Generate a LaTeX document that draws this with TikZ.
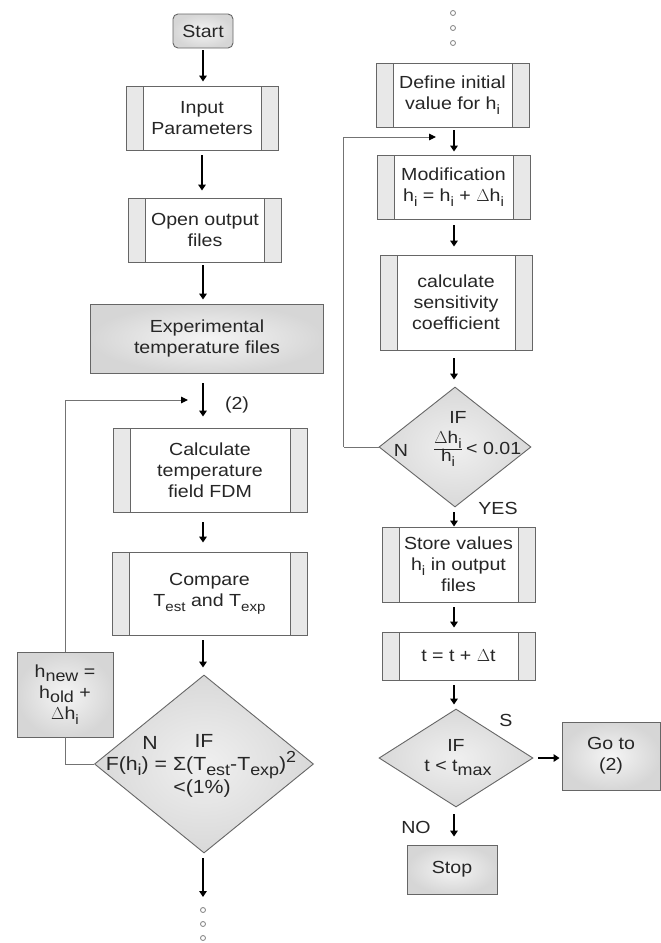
\documentclass[tikz,border=0pt]{standalone}
\usepackage{fontspec}
\setmainfont[FakeStretch=1.12]{Liberation Sans}
\usetikzlibrary{shapes.geometric,arrows.meta}
\newcommand\sbs[1]{\raisebox{-0.5ex}{\fontsize{13.5}{13.5}\selectfont #1}}
\newcommand\sbb[1]{\raisebox{-0.45ex}{\fontsize{16}{16}\selectfont #1}}
\newcommand\sps[1]{\raisebox{0.8ex}{\fontsize{16}{16}\selectfont #1}}
\begin{document}
\begin{tikzpicture}[x=1pt,y=-1pt,
  every node/.style={text=black!85, font=\fontsize{17.5}{21}\selectfont, align=center},
  box/.style={draw=black!60, line width=0.9pt, rectangle, inner sep=0pt},
  shadedbox/.style={box, inner color=gray!8, outer color=gray!32},
  proc/.style={box, fill=gray!18, path picture={
      \fill[white] ([xshift=17pt]path picture bounding box.south west) rectangle ([xshift=-17pt]path picture bounding box.north east);
      \draw[black!60, line width=0.9pt] ([xshift=17pt]path picture bounding box.south west) -- ([xshift=17pt]path picture bounding box.north west);
      \draw[black!60, line width=0.9pt] ([xshift=-17pt]path picture bounding box.south east) -- ([xshift=-17pt]path picture bounding box.north east);
  }},
  dec/.style={diamond, draw=black!60, line width=0.9pt, inner sep=0pt, inner color=gray!12, outer color=gray!30},
  lbl/.style={inner sep=0pt},
  arr/.style={-{Triangle[length=6pt,width=7.5pt]}, line width=2.6pt, draw=black},
  fb/.style={draw=black!55, line width=1pt, -{Triangle[length=7pt,width=6.5pt,color=black]}},
  fbline/.style={draw=black!55, line width=1pt},
  dot/.style={circle, draw=black!50, line width=0.8pt, minimum size=5pt, inner sep=0pt}
]
\useasboundingbox[fill=white] (0,0) rectangle (661,943);

% ---------- left column ----------
\node[shadedbox, rounded corners=5pt, minimum width=60pt, minimum height=34pt] (start) at (203,31) {Start};
\node[proc, minimum width=152pt, minimum height=64pt] (inp) at (202,118) {Input\\Parameters};
\node[proc, minimum width=153pt, minimum height=64pt] (open) at (205,230) {Open output\\files};
\node[shadedbox, minimum width=233pt, minimum height=69pt] (exp) at (207,338.5) {Experimental\\temperature files};
\node[proc, minimum width=194pt, minimum height=84pt] (calc) at (210,470) {Calculate\\temperature\\field FDM};
\node[proc, minimum width=195pt, minimum height=83pt] (comp) at (209.5,593.5) {Compare\\T\sbs{est} and T\sbs{exp}};
\node[shadedbox, minimum width=96pt, minimum height=85pt] (hnew) at (65,694.5) {h\sbb{new} =\\h\sbb{old} +\\$\Delta$h\sbs{i}};
\node[dec, minimum width=219pt, minimum height=178pt] (d1) at (204,764) {};
\node[lbl, font=\fontsize{19}{21}\selectfont] (d1n) at (150,743) {N};
\node[lbl, font=\fontsize{19}{21}\selectfont] (d1if) at (204,741) {IF};
\node[lbl, font=\fontsize{19}{21}\selectfont] (d1f) at (201,765) {F(h\sbb{i}) = Σ(T\sbb{est}-T\sbb{exp})\sps{2}};
\node[lbl, font=\fontsize{19}{21}\selectfont] (d1p) at (202,789) {<(1\%)};
\coordinate (p2) at (203,400);
\node[lbl] (two) at (237,405) {(2)};
\coordinate (d1end) at (203,897);
\node[dot] (a1) at (203,910) {};
\node[dot] (a2) at (203,924) {};
\node[dot] (a3) at (203,938) {};

\draw[arr, shorten <=2pt, shorten >=4pt] (start) -- (start |- inp.north);
\draw[arr, shorten <=5pt, shorten >=7pt] (inp) -- (inp |- open.north);
\draw[arr, shorten <=3pt, shorten >=4pt] (open.south -| start) -- (start |- exp.north);
\draw[arr, shorten <=10pt, shorten >=11pt] (exp.south -| start) -- (start |- calc.north);
\draw[arr, shorten <=10pt, shorten >=9pt] (calc.south -| start) -- (start |- comp.north);
\draw[arr, shorten <=5pt, shorten >=7pt] (comp.south -| start) -- (start |- d1.north);
\draw[arr, shorten <=5pt] (d1.south -| start) -- (d1end);
\draw[fbline] (d1.west) -| (hnew.south);
\draw[fb] (hnew.north) |- ([xshift=-15pt]p2);

% ---------- right column ----------
\node[dot] (b1) at (453,13) {};
\node[dot] (b2) at (453,28) {};
\node[dot] (b3) at (453,43) {};
\node[proc, minimum width=153pt, minimum height=64pt] (def) at (452.5,95) {Define initial\\value for h\sbs{i}};
\node[proc, minimum width=153pt, minimum height=64pt] (mod) at (453.5,187) {Modification\\h\sbs{i} = h\sbs{i} + $\Delta$h\sbs{i}};
\node[proc, minimum width=152pt, minimum height=95pt] (sens) at (456,302.5) {calculate\\sensitivity\\coefficient};
\node[dec, minimum width=152pt, minimum height=120pt] (d2) at (455,447) {};
\node[lbl] (d2if) at (458,417) {IF};
\node[lbl] (d2n) at (401,450) {N};
\node[lbl, font=\fontsize{17}{18}\selectfont] (d2f) at (448,449) {$\frac{\mbox{$\Delta$h\sbs{i}}}{\mbox{h\sbs{i}}}$};
\node[lbl, anchor=west] (d2c) at (466,448) {< 0.01};
\node[lbl] (yes) at (498,508) {YES};
\node[proc, minimum width=153pt, minimum height=75pt] (store) at (458.5,564.5) {Store values\\h\sbs{i} in output\\files};
\node[proc, minimum width=153pt, minimum height=48pt] (tt) at (458.5,656) {t = t + $\Delta$t};
\node[dec, minimum width=154pt, minimum height=98pt] (d3) at (456,758) {};
\node[lbl] (d3if) at (456,745) {IF};
\node[lbl] (d3t) at (458,768) {t < t\sbb{max}};
\node[lbl] (s) at (506,720) {S};
\node[lbl] (no) at (416,827) {NO};
\node[shadedbox, minimum width=98pt, minimum height=68pt] (goto) at (611,756) {Go to\\(2)};
\node[shadedbox, minimum width=90pt, minimum height=49pt] (stop) at (452,869.5) {Stop};
\coordinate (p3) at (454,137);

\draw[arr, shorten <=3pt, shorten >=3pt] (def.south -| p3) -- (p3 |- mod.north);
\draw[arr, shorten <=6pt, shorten >=8pt] (mod.south -| p3) -- (p3 |- sens.north);
\draw[arr, shorten <=8pt, shorten >=7pt] (sens.south -| p3) -- (p3 |- d2.north);
\draw[arr, shorten <=5pt, shorten >=0pt] (d2.south -| p3) -- (p3 |- store.north);
\draw[arr, shorten <=5pt, shorten >=4pt] (store.south -| p3) -- (p3 |- tt.north);
\draw[arr, shorten <=5pt, shorten >=4pt] (tt.south -| p3) -- (p3 |- d3.north);
\draw[arr, shorten <=7pt, shorten >=8pt] (d3.south -| p3) -- (p3 |- stop.north);
\draw[arr, shorten <=5pt, shorten >=2pt] (d3.east) -- (d3.east -| goto.west);
\draw[fbline] (d2.west) -- ++(-35,0) coordinate (fbc);
\draw[fb] (fbc) |- ([xshift=-18pt]p3);
\end{tikzpicture}
\end{document}
